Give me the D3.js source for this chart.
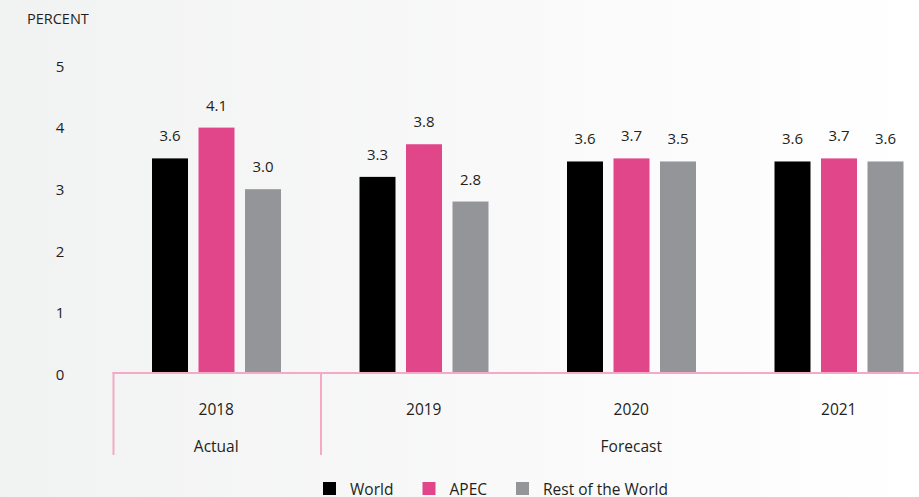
<!DOCTYPE html>
<html>
<head>
<meta charset="utf-8">
<script src="https://cdn.jsdelivr.net/npm/d3@7"></script>
<style>
  body { margin: 0; }
  svg { display: block; font-family: "Open Sans", sans-serif; }
</style>
</head>
<body>
<div id="chart"></div>
<script>
// data
let years = ["2018", "2019", "2020", "2021"];
let seriesNames = ["World", "APEC", "Rest of the World"];
let world = [3.5, 3.2, 3.45, 3.45];
let apec = [4.0, 3.73, 3.5, 3.5];
let rest = [3.0, 2.8, 3.45, 3.45];
let worldLabels = ["3.6", "3.3", "3.6", "3.6"];
let apecLabels = ["4.1", "3.8", "3.7", "3.7"];
let restLabels = ["3.0", "2.8", "3.5", "3.6"];
let yTicks = [0, 1, 2, 3, 4, 5];
let periods = [{name: "Actual", from: "2018", to: "2018"}, {name: "Forecast", from: "2019", to: "2021"}];

let width = 919, height = 497;
let colors = {"World": "#000000", "APEC": "#e2468a", "Rest of the World": "#949598"};
let pink = "#f4a9c6";
let textColor = "#231f20";

let svg = d3.select("#chart").append("svg")
  .attr("width", width).attr("height", height);

// background fades from light grey to white
let grad = svg.append("defs").append("linearGradient").attr("id", "bg")
  .attr("x1", "0%").attr("x2", "100%");
grad.append("stop").attr("offset", "0%").attr("stop-color", "#f1f2f2");
grad.append("stop").attr("offset", "55%").attr("stop-color", "#f9f9f9");
grad.append("stop").attr("offset", "100%").attr("stop-color", "#ffffff");
svg.append("rect").attr("width", width).attr("height", height).attr("fill", "url(#bg)");

let xScale = d3.scaleBand().domain(years).range([112.5, 942.5]);
let xInner = d3.scaleBand().domain(seriesNames).range([39.5, 168.5]).paddingInner(0.226);
let yScale = d3.scaleLinear().domain([0, 5]).range([374, 66]);

// rows for bars
let rows = [];
years.forEach(function(y, i) {
  rows.push({year: y, series: "World", value: world[i], label: worldLabels[i]});
  rows.push({year: y, series: "APEC", value: apec[i], label: apecLabels[i]});
  rows.push({year: y, series: "Rest of the World", value: rest[i], label: restLabels[i]});
});

// y axis: labels only
let y_ax = svg.append("g").attr("transform", "translate(60,0)")
  .call(d3.axisLeft(yScale).tickValues(yTicks).tickFormat(d3.format("d")).tickSize(0).tickPadding(0));
y_ax.select(".domain").remove();
y_ax.selectAll("text").attr("text-anchor", "middle").attr("dy", "0.35em")
  .style("font-family", "Open Sans").style("font-size", "15px").attr("fill", textColor);

svg.append("text").attr("x", 27).attr("y", 24).text("PERCENT")
  .style("font-size", "14.5px").attr("fill", textColor);

// bars
svg.append("g").selectAll("rect").data(rows).enter().append("rect")
  .attr("x", function(d) { return xScale(d.year) + xInner(d.series); })
  .attr("y", function(d) { return yScale(d.value); })
  .attr("width", xInner.bandwidth())
  .attr("height", function(d) { return yScale(0) - yScale(d.value); })
  .attr("fill", function(d) { return colors[d.series]; });

svg.append("g").selectAll("text").data(rows).enter().append("text")
  .attr("x", function(d) { return xScale(d.year) + xInner(d.series) + xInner.bandwidth() / 2; })
  .attr("y", function(d) { return yScale(d.value) - 17; })
  .attr("text-anchor", "middle")
  .style("font-size", "15px").attr("fill", textColor)
  .text(function(d) { return d.label; });

// x axis with pink bracket lines
let x_ax = svg.append("g").attr("transform", "translate(0,373)")
  .call(d3.axisBottom(xScale).tickSize(0).tickPadding(31));
x_ax.select(".domain").remove();
x_ax.selectAll("text").style("font-family", "Open Sans").style("font-size", "15.5px").attr("fill", textColor);

svg.append("line").attr("x1", 112.5).attr("x2", width).attr("y1", 373).attr("y2", 373)
  .attr("stroke", pink).attr("stroke-width", 2);
periods.forEach(function(p) {
  let x0 = xScale(p.from), x1 = xScale(p.to) + xScale.bandwidth();
  svg.append("line").attr("x1", x0 + 1).attr("x2", x0 + 1).attr("y1", 372).attr("y2", 455)
    .attr("stroke", pink).attr("stroke-width", 2);
  svg.append("text").attr("x", (x0 + x1) / 2).attr("y", 451.5).attr("text-anchor", "middle")
    .style("font-size", "15.5px").attr("fill", textColor).text(p.name);
});

// legend
let legendX = [323, 422.5, 516];
let legend = svg.append("g").selectAll("g").data(seriesNames).enter().append("g")
  .attr("transform", function(d, i) { return "translate(" + legendX[i] + ",482)"; });
legend.append("rect").attr("width", 13).attr("height", 13)
  .attr("fill", function(d) { return colors[d]; });
legend.append("text").attr("x", 27).attr("y", 12.5)
  .style("font-size", "15.5px").attr("fill", textColor)
  .text(function(d) { return d; });
</script>
</body>
</html>
